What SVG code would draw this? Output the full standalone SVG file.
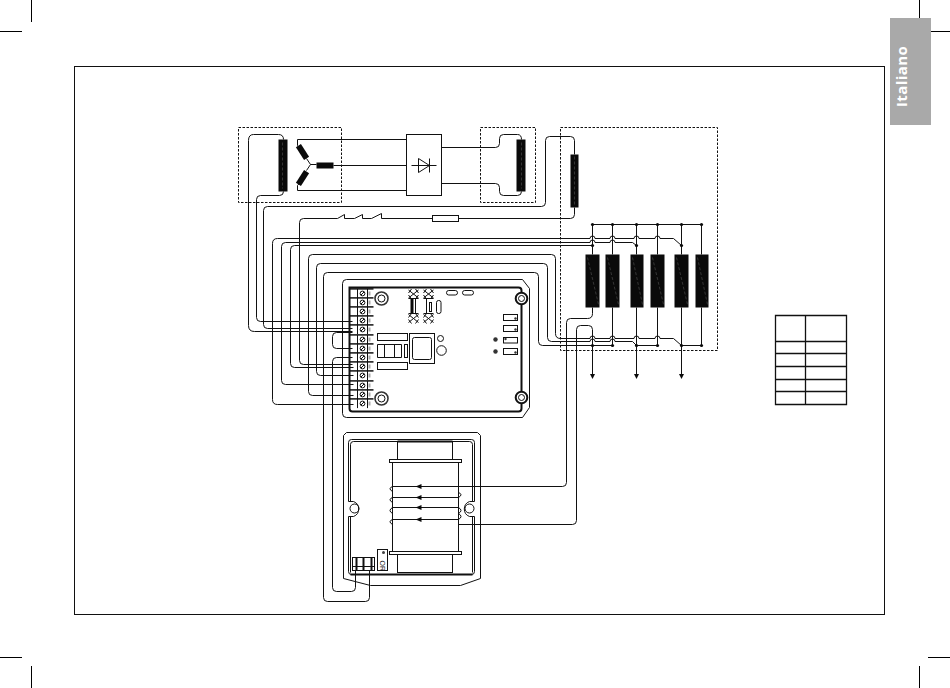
<svg xmlns="http://www.w3.org/2000/svg" xmlns:xlink="http://www.w3.org/1999/xlink" width="950" height="688" viewBox="0 0 950 688">
<style>
.l{fill:none;stroke:#111;stroke-width:1}
.w{fill:none;stroke:#111;stroke-width:1}
.t{fill:none;stroke:#111;stroke-width:2}
.d{fill:none;stroke:#111;stroke-width:1;stroke-dasharray:2.5 1.5}
.b{fill:#fff;stroke:#111;stroke-width:1}
.k{fill:#0a0a0a}
.g{fill:none;stroke:#484848;stroke-width:.7;stroke-dasharray:3 2}
.m{fill:none;stroke:#000;stroke-width:1}
</style>
<defs>
<g id="term">
<path class="t" d="M349 -4.6H373" style="stroke-width:1.500"/>
<path class="l" d="M357 -4.6V4.6M367 -4.6V4.6"/>
<circle cx="362" cy="0" r="2.400" class="l"/>
<path d="M360.500 1.500L363.500 -1.500" class="l"/>
<path d="M369 -2V2" stroke="#aaa" stroke-width="2" fill="none"/>
</g>
<g id="xx">
<path class="l" d="M-5 -4L5 4M5 -4L-5 4M-5 -1L-2 -5M5 -1L2 -5M-5 1L-2 5M5 1L2 5"/>
</g>
<g id="hole">
<circle r="5.800" fill="#fff" stroke="#111" stroke-width="2"/>
<circle r="3" fill="#fff" stroke="#111" stroke-width="1"/>
</g>
<path id="arr" class="k" d="M-2.500 -2.500H2.500L0 2.500Z"/>
<path id="arl" class="k" d="M3 -2.500V2.500L-3 0Z"/>
</defs>
<rect width="950" height="688" fill="#fff"/>

<g id="crop-marks">
<path class="m" d="M31.500 0V22M0 31.500H22M919.500 0V22M928 31.500H950M0 657.500H22M31.500 666V688M928 657.500H950M919.500 666V688"/>
</g>
<rect id="frame" x="74.500" y="66.500" width="810" height="548" fill="none" stroke="#111" stroke-width="1"/>
<g id="language-tab">
<rect x="890" y="18" width="41" height="107" fill="#a9a9a9"/>
<text transform="translate(907 107) rotate(-90)" font-family="'Open Sans','Liberation Sans',sans-serif" font-weight="700" font-size="15" letter-spacing="0.4" fill="#fff">Italiano</text>
</g>

<g transform="translate(.5 .5)">
<g id="connectors">
<path class="w" d="M352 331H254Q248 331 248 325V140Q248 134 253 134H278Q283 134 283 139"/>
<path class="w" d="M283 191Q283 195 279 195H260Q256 195 256 199V317Q256 321 260 321H352"/>
<path class="w" d="M574 154V140Q574 136 570 136H549Q545 136 545 140V202Q545 206 541 206H267Q263 206 263 210V324Q263 328 267 328H352"/>
<path class="w" d="M574 207V214Q574 218 570 218H458M432 218H381V213L371 218H362V214L354 218H344V214L337 218H303Q299 218 299 222V360Q299 364 303 364H352"/>
<path class="w" d="M353 404H277Q272 404 272 399V243Q272 238 277 238H589.500A2.500 2.500 0 0 1 594.500 238H609.500A2.500 2.500 0 0 1 614.500 238H633.500A2.500 2.500 0 0 1 638.500 238H654.500A2.500 2.500 0 0 1 659.500 238H673L681 245"/>
<path class="w" d="M353 384H285Q281 384 281 380V246Q281 242 285 242H589.500A2.500 2.500 0 0 1 594.500 242H609.500A2.500 2.500 0 0 1 614.500 242H632L636 245"/>
<path class="w" d="M353 367H294Q290 367 290 363V249Q290 245 294 245H592"/>
<path class="w" d="M353 395H312Q308 395 308 391V258Q308 254 312 254H551Q555 254 555 258V333Q555 338 560 338H589.500A2.500 2.500 0 0 1 594.500 338H609.500A2.500 2.500 0 0 1 614.500 338H633.500A2.500 2.500 0 0 1 638.500 338H654.500A2.500 2.500 0 0 1 659.500 338H673L681 345"/>
<path class="w" d="M353 375H320Q316 375 316 371V267Q316 263 320 263H543Q547 263 547 267V337Q547 341 551 341H589.500A2.500 2.500 0 0 1 594.500 341H609.500A2.500 2.500 0 0 1 614.500 341H632L636 345"/>
<path class="w" d="M369 568V597Q369 601 365 601H327Q323 601 323 597V276Q323 272 327 272H534Q538 272 538 276V341Q538 345 542 345H612"/>
<path class="w" d="M355 568V587Q355 591 351 591H336Q332 591 332 587V361Q332 357 336 357H352"/>
<path class="w" d="M352 332H336Q332 332 332 336V344Q332 348 336 348H352"/>
<path class="w" d="M592 224H701M592 224V254M612 224V254M636 224V254M657 224V254M681 224V254M701 224V254"/>
<path class="w" d="M612 307V345M636 345H657V307M681 345H701V307"/>
<path class="w" d="M636 307V374M681 307V374"/>
<path class="w" d="M592 307V313Q592 318 587 318H570Q566 318 566 322V482Q566 486 562 486H420"/>
<path class="w" d="M592 374V329Q592 325 588 325H580Q576 325 576 329V520Q576 524 572 524H458"/>
<g class="k">
<circle cx="592" cy="224" r="1.600"/><circle cx="612" cy="224" r="1.600"/><circle cx="636" cy="224" r="1.600"/><circle cx="657" cy="224" r="1.600"/><circle cx="681" cy="224" r="1.600"/><circle cx="701" cy="224" r="1.600"/>
<circle cx="592" cy="245" r="1.600"/><circle cx="636" cy="245" r="1.600"/><circle cx="681" cy="245" r="1.600"/>
<circle cx="592" cy="345" r="1.600"/><circle cx="612" cy="345" r="1.600"/><circle cx="636" cy="345" r="1.600"/><circle cx="657" cy="345" r="1.600"/><circle cx="681" cy="345" r="1.600"/><circle cx="701" cy="345" r="1.600"/>
</g>
<use xlink:href="#arr" href="#arr" x="592" y="376"/>
<use xlink:href="#arr" href="#arr" x="636" y="376"/>
<use xlink:href="#arr" href="#arr" x="681" y="376"/>
<path class="w" d="M297 139H406M333 165H406M297 190H406"/>
<path class="w" d="M441 147H495Q499 147 499 143V138Q499 134 503 134H517Q521 134 521 139"/>
<path class="w" d="M441 183H495Q499 183 499 187V191Q499 195 503 195H517Q521 195 521 191"/>
</g>

<g id="fuse">
<rect class="b" x="432" y="215" width="26" height="6"/>
</g>

<g id="generator-exciter">
<rect class="d" x="238" y="127" width="103" height="75"/>
<rect class="k" x="278" y="139" width="9" height="52"/>
<path class="g" d="M282 142V188"/>
<path class="w" d="M297 139V145L303 152M297 190V185L303 178"/>
<g transform="rotate(-33 302 151.500)"><rect class="k" x="299" y="144" width="6" height="15"/></g>
<g transform="rotate(33 302 177.500)"><rect class="k" x="299" y="170" width="6" height="15"/></g>
<path class="w" d="M306 158L310 164L306 170M310 164H316"/>
<rect class="k" x="316" y="162" width="17" height="6"/>
</g>

<g id="rectifier">
<rect class="b" x="406" y="134" width="35" height="61"/>
<path class="l" d="M411 165H436M418 158V172L429 165ZM429 158V172"/>
</g>

<g id="main-exciter-field">
<rect class="d" x="480" y="127" width="55" height="75"/>
<rect class="k" x="516" y="139" width="9" height="52"/>
<path class="g" d="M521 142V188"/>
</g>

<g id="stator">
<rect class="d" x="560" y="127" width="157" height="223"/>
<rect class="k" x="570" y="154" width="8" height="53"/>
<path class="g" d="M574 156V204"/>
<rect class="k" x="585" y="254" width="14" height="53"/><path class="g" d="M587 257L598 304"/>
<rect class="k" x="605" y="254" width="14" height="53"/><path class="g" d="M607 257L618 304"/>
<rect class="k" x="630" y="254" width="13" height="53"/><path class="g" d="M632 257L642 304"/>
<rect class="k" x="650" y="254" width="14" height="53"/><path class="g" d="M652 257L663 304"/>
<rect class="k" x="674" y="254" width="14" height="53"/><path class="g" d="M676 257L687 304"/>
<rect class="k" x="695" y="254" width="13" height="53"/><path class="g" d="M697 257L707 304"/>
</g>

<g id="regulator-board">
<path class="l" d="M346 279H522L529 288V407L522 417H346Q342 417 342 413V283Q342 279 346 279Z"/>
<path class="t" d="M349 287H518Q521 287 521 290V408Q521 411 518 411H352Q349 411 349 408Z"/>
<use xlink:href="#hole" href="#hole" x="521" y="298"/>
<use xlink:href="#hole" href="#hole" x="521" y="397"/>
<g>
<use xlink:href="#term" href="#term" y="293"/><use xlink:href="#term" href="#term" y="302"/><use xlink:href="#term" href="#term" y="311"/><use xlink:href="#term" href="#term" y="320"/><use xlink:href="#term" href="#term" y="329"/><use xlink:href="#term" href="#term" y="339"/><use xlink:href="#term" href="#term" y="348"/><use xlink:href="#term" href="#term" y="357"/><use xlink:href="#term" href="#term" y="366"/><use xlink:href="#term" href="#term" y="375"/><use xlink:href="#term" href="#term" y="385"/><use xlink:href="#term" href="#term" y="394"/><use xlink:href="#term" href="#term" y="403"/>
</g>
<circle cx="381" cy="298" r="6.500" fill="#fff" stroke="#333" stroke-width="1.600"/><circle cx="381" cy="298" r="3.500" class="l"/>
<circle cx="381" cy="398" r="6.500" fill="#fff" stroke="#333" stroke-width="1.600"/><circle cx="381" cy="398" r="3.500" class="l"/>
<rect class="l" x="377" y="333" width="30" height="7"/>
<rect class="l" x="377" y="362" width="30" height="7"/>
<path class="l" d="M377 344H401V357H377ZM384 344V357M394 344V357"/>
<rect class="l" x="404" y="344" width="3" height="13"/>
<rect class="l" x="409" y="333" width="25" height="30"/>
<rect class="l" x="412" y="337" width="19" height="22" rx="2"/>
<circle class="l" cx="440" cy="338" r="3"/>
<circle class="l" cx="441" cy="350" r="4.800"/>
<use xlink:href="#xx" href="#xx" x="413" y="293.500"/><use xlink:href="#xx" href="#xx" x="413" y="318"/>
<use xlink:href="#xx" href="#xx" x="428" y="293.500"/><use xlink:href="#xx" href="#xx" x="428" y="318"/>
<rect class="k" x="410" y="298" width="3" height="15"/>
<path class="l" d="M415 298V313M408 298H418M408 313H418"/>
<path class="l" d="M426 298V313M423 298H433M423 313H433"/>
<rect class="l" x="429" y="302" width="2" height="9"/>
<rect class="l" x="436" y="300" width="4.500" height="13" rx="2"/>
<rect class="l" x="446" y="290" width="11" height="4.500" rx="2.200"/>
<rect class="l" x="462" y="290" width="11" height="4.500" rx="2.200"/>
<rect class="l" x="503" y="314" width="14" height="6"/>
<rect class="l" x="503" y="325" width="14" height="6"/>
<rect class="l" x="503" y="337" width="14" height="5.500"/>
<rect class="l" x="503" y="348" width="14" height="6"/>
<g fill="#333"><circle cx="515" cy="318" r="1.200"/><circle cx="515" cy="329" r="1.200"/><circle cx="505" cy="338.500" r="1.200"/><circle cx="515" cy="352" r="1.200"/><circle cx="495" cy="339" r="2.200"/><circle cx="495" cy="351" r="2.200"/></g>
</g>

<g id="transformer-board">
<path class="l" d="M346 432H477L480 435V578L460 585H370L343 578V435Z"/>
<path class="l" d="M348 501V442Q348 439 351 439H471Q474 439 474 442V501M350 501V444Q350 441 353 441H469Q472 441 472 444V501"/>
<path class="l" d="M348 516V571Q348 574 351 574H471Q474 574 474 571V516M350 516V572M472 516V572"/>
<path class="t" d="M350 574H472"/>
<path class="l" d="M348 501H353A8 8 0 0 1 353 516H348M474 501H469A8 8 0 0 0 469 516H474"/>
<circle class="l" cx="354" cy="508" r="4.500"/>
<circle class="l" cx="469" cy="508" r="4.500"/>
<rect class="l" x="397" y="441" width="55" height="18"/>
<rect class="l" x="397" y="554" width="55" height="18"/>
<path class="l" d="M397 441H452" style="stroke-width:2"/>
<rect class="l" x="392" y="462" width="66" height="89"/>
<rect class="b" x="389" y="459" width="72" height="3"/>
<rect class="b" x="389" y="551" width="72" height="3"/>
<path class="w" d="M420 486H392M458 497H392M458 507H392M458 519H392"/>
<use xlink:href="#arl" href="#arl" x="418" y="486"/>
<use xlink:href="#arl" href="#arl" x="418" y="497"/>
<use xlink:href="#arl" href="#arl" x="418" y="507"/>
<use xlink:href="#arl" href="#arl" x="418" y="519"/>
<path class="l" d="M392 486Q387 488 392 491M392 497Q387 499 392 502M392 507Q387 510 392 513M392 519Q387 521 392 524"/>
<path class="l" d="M458 492Q463 494 458 497M458 507Q463 510 458 513M458 513Q463 516 458 519"/>
<rect class="l" x="377" y="549" width="10" height="21"/>
<circle cx="383" cy="552" r="1.500" fill="#444"/>
<text transform="translate(379 560) rotate(90)" font-family="'Liberation Sans',sans-serif" font-size="7" fill="#222">OR</text>
<rect class="b" x="352" y="557" width="22" height="13"/>
<path class="t" d="M356 557V570M363 557V570M371 557V570"/>
<path class="l" d="M352 566H374"/>
</g>

<g id="legend-table">
<path class="l" style="stroke-width:1.300" d="M775 315H846V404H775ZM805 315V404M775 341H846M775 353H846M775 366H846M775 379H846M775 391H846"/>
</g>
</g>
</svg>
